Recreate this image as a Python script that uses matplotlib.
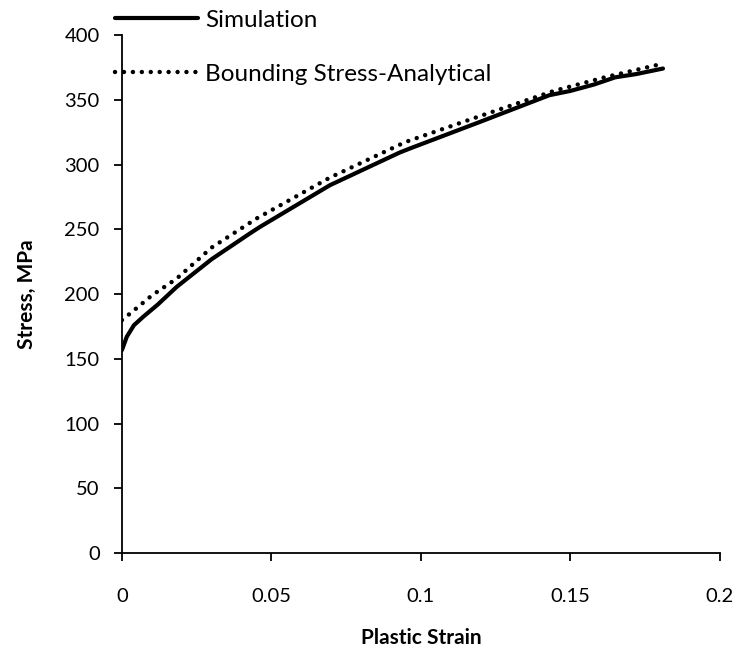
import matplotlib
matplotlib.use("Agg")
import matplotlib.pyplot as plt

# Data
sim_x = [0, 0.0016, 0.004, 0.0071, 0.012, 0.0183, 0.03, 0.0428, 0.0462, 0.0696,
         0.093, 0.0963, 0.1197, 0.143, 0.15, 0.158, 0.165, 0.172, 0.181]
sim_y = [156.8, 167, 176, 182.5, 192, 205.6, 227, 246.9, 252, 284.2,
         309.5, 312.5, 333, 353.7, 357, 362, 367.5, 370, 374.3]

ana_x = [0, 0.0027, 0.01, 0.0183, 0.03, 0.045, 0.0696, 0.0949, 0.1197, 0.1445,
         0.162, 0.1786]
ana_y = [180, 185, 199, 212, 236, 258.4, 290.1, 317.6, 337.5, 357, 367.8, 376.8]

x_ticks = [0, 0.05, 0.1, 0.15, 0.2]
x_tick_labels = ["0", "0.05", "0.1", "0.15", "0.2"]
y_ticks = [0, 50, 100, 150, 200, 250, 300, 350, 400]

plt.rcParams['font.family'] = ['Lato', 'DejaVu Sans']

fig = plt.figure(figsize=(7.39, 6.53), dpi=100)
ax = fig.add_axes([0.165, 0.153, 0.809, 0.793])

ax.plot(sim_x, sim_y, color='black', lw=3.0, solid_capstyle='round',
        solid_joinstyle='round', label='Simulation')
ax.plot(ana_x, ana_y, color='black', lw=3.2, linestyle=(0, (0.01, 2.0)),
        dash_capstyle='round', label='Bounding Stress-Analytical')

ax.set_xlim(0, 0.2)
ax.set_ylim(0, 400)
ax.set_xticks(x_ticks)
ax.set_xticklabels(x_tick_labels)
ax.set_yticks(y_ticks)

for s in ['top', 'right']:
    ax.spines[s].set_visible(False)
for s in ['left', 'bottom']:
    ax.spines[s].set_linewidth(1.3)

ax.tick_params(direction='out', length=6, width=1.3, labelsize=14.5)
ax.tick_params(axis='x', pad=19)
ax.tick_params(axis='y', pad=10)

ax.set_xlabel('Plastic Strain', fontsize=15, fontweight='bold', labelpad=17)
ax.set_ylabel('Stress, MPa', fontsize=15, fontweight='bold', labelpad=20)

leg = ax.legend(loc='upper left', bbox_to_anchor=(0.156, 0.985),
                bbox_transform=fig.transFigure, frameon=False, fontsize=17.5,
                handlelength=3.4, handletextpad=0.3, labelspacing=1.35,
                borderaxespad=0, borderpad=0)

fig.savefig('out.png', dpi=100)
